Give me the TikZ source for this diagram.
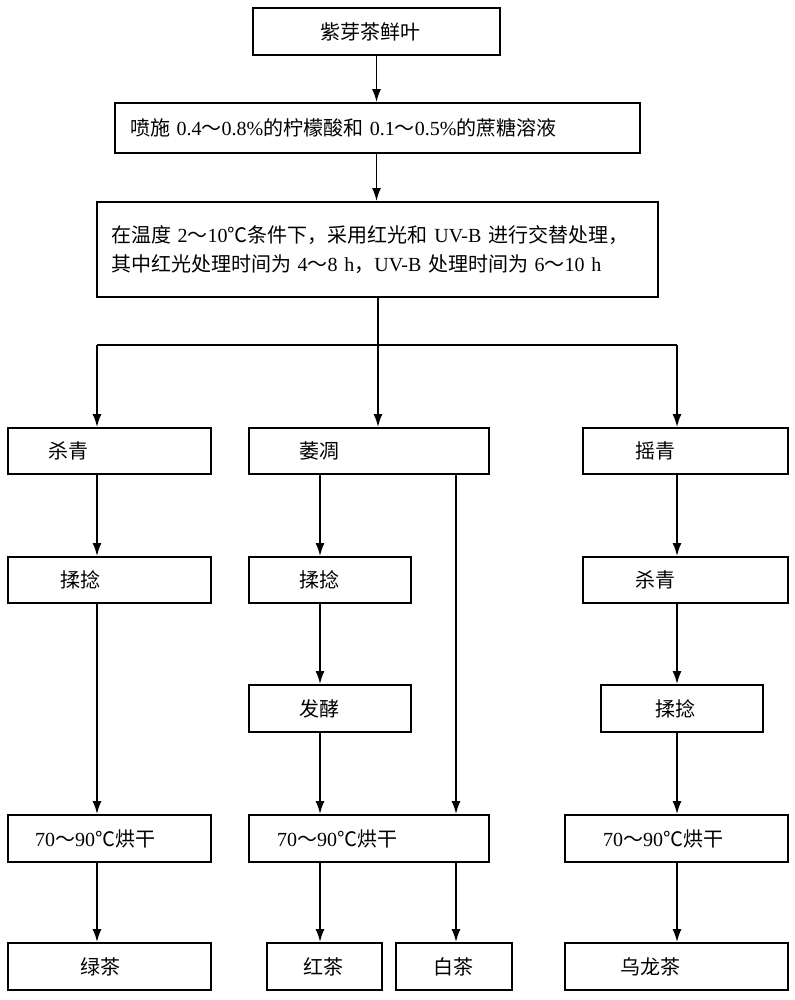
\documentclass[tikz,border=0pt]{standalone}
\usepackage{fontspec}
\setmainfont{Liberation Serif}
\newfontfamily\cjk{Noto Sans CJK SC}
\usetikzlibrary{arrows.meta}
\newcommand\zh[1]{{\cjk #1}}
% box: name, x1, y1, x2, y2, left offset, text
\newcommand\stepbox[7]{%
  \pgfmathsetmacro\bw{(#4-#2-2*#6)*0.5}%
  \node[box, text width=\bw pt, inner xsep={#6*0.5pt}, minimum height={(#5-#3)*0.5pt}]
    (#1) at ({(#2+#4)/2},{(#3+#5)/2}) {#7};}
\tikzset{every picture/.style={line width=0.9pt}}
\begin{document}
\begin{tikzpicture}[x=0.5pt,y=0.5pt,yscale=-1,
  box/.style={draw, inner ysep=0pt, align=left, font=\fontsize{10}{14.5}\selectfont},
  arr/.style={-{Latex[length=6.5pt,width=4.5pt]}}]
\useasboundingbox (0,0) rectangle (795,1000);

%top chain
\stepbox{leaf}{253}{8}{500}{55}{67}{\zh{紫芽茶鲜叶}}
\stepbox{spray}{115}{103}{640}{153}{15}{\zh{喷施} 0.4\zh{～}0.8\%\zh{的柠檬酸和} 0.1\zh{～}0.5\%\zh{的蔗糖溶液}}
\stepbox{light}{97}{202}{658}{297}{14}{\zh{在温度} 2\zh{～}10\zh{℃条件下，采用红光和} UV-B \zh{进行交替处理，}\\\zh{其中红光处理时间为} 4\zh{～}8 h\zh{，}UV-B \zh{处理时间为} 6\zh{～}10 h}

%second row
\stepbox{kill}{8}{428}{211}{474}{40}{\zh{杀青}}
\stepbox{wither}{249}{428}{489}{474}{50}{\zh{萎凋}}
\stepbox{shake}{583}{428}{788}{474}{52}{\zh{摇青}}

\stepbox{rollA}{8}{557}{211}{603}{52}{\zh{揉捻}}
\stepbox{rollB}{249}{557}{411}{603}{50}{\zh{揉捻}}
\stepbox{killC}{583}{557}{788}{603}{52}{\zh{杀青}}

\stepbox{ferm}{249}{685}{411}{732}{50}{\zh{发酵}}
\stepbox{rollC}{601}{685}{763}{732}{54}{\zh{揉捻}}

\stepbox{dryA}{8}{815}{211}{862}{27}{70\zh{～}90\zh{℃烘干}}
\stepbox{dryB}{249}{815}{489}{862}{28}{70\zh{～}90\zh{℃烘干}}
\stepbox{dryC}{565}{815}{788}{862}{38}{70\zh{～}90\zh{℃烘干}}

\stepbox{green}{8}{943}{211}{990}{72}{\zh{绿茶}}
\stepbox{black}{267}{943}{382}{990}{36}{\zh{红茶}}
\stepbox{white}{396}{943}{512}{990}{37}{\zh{白茶}}
\stepbox{oolong}{565}{943}{788}{990}{55}{\zh{乌龙茶}}

\coordinate (bl) at (97,345);
\coordinate (bm) at (378,345);
\coordinate (br) at (677,345);
\coordinate (mx) at (320,0);
\coordinate (wx) at (456,0);

\draw[arr] (leaf) -- (spray.north -| leaf);
\draw[arr] (spray.south -| leaf) -- (light.north -| leaf);
\draw (light.south -| bm) -- (bm);
\draw (bl) -- (br);
\draw[arr] (bl) -- (kill.north -| bl);
\draw[arr] (bm) -- (wither.north -| bm);
\draw[arr] (br) -- (shake.north -| br);

%green tea
\draw[arr] (kill.south -| bl) -- (rollA.north -| bl);
\draw[arr] (rollA.south -| bl) -- (dryA.north -| bl);
\draw[arr] (dryA.south -| bl) -- (green.north -| bl);
%black and white tea
\draw[arr] (wither.south -| mx) -- (rollB.north -| mx);
\draw[arr] (rollB.south -| mx) -- (ferm.north -| mx);
\draw[arr] (ferm.south -| mx) -- (dryB.north -| mx);
\draw[arr] (wither.south -| wx) -- (dryB.north -| wx);
\draw[arr] (dryB.south -| mx) -- (black.north -| mx);
\draw[arr] (dryB.south -| wx) -- (white.north -| wx);
%oolong
\draw[arr] (shake.south -| br) -- (killC.north -| br);
\draw[arr] (killC.south -| br) -- (rollC.north -| br);
\draw[arr] (rollC.south -| br) -- (dryC.north -| br);
\draw[arr] (dryC.south -| br) -- (oolong.north -| br);
\end{tikzpicture}
\end{document}
